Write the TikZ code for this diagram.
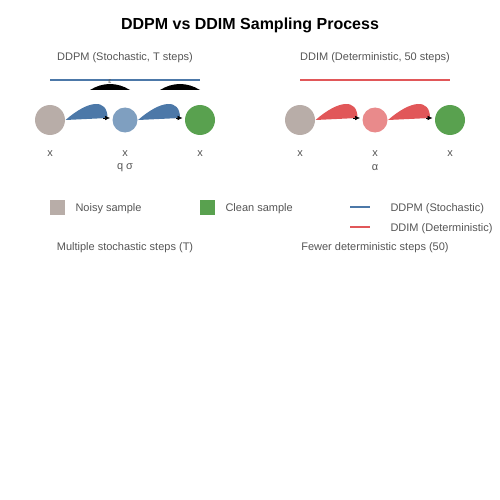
\documentclass[tikz,border=0pt]{standalone}
\usepackage{fontspec}
\setmainfont{Liberation Sans}
\setsansfont{Liberation Sans}
\usetikzlibrary{positioning,arrows.meta}
\definecolor{noisy}{RGB}{184,173,168}
\definecolor{clean}{RGB}{89,161,79}
\definecolor{ddpm}{RGB}{76,120,168}
\definecolor{ddpmlight}{RGB}{127,159,192}
\definecolor{ddim}{RGB}{225,87,89}
\definecolor{ddimlight}{RGB}{233,138,139}
\definecolor{txt}{RGB}{85,85,85}
\begin{document}
\begin{tikzpicture}[x=1pt,y=-1pt,line width=1pt,>=Latex,
  every node/.style={text=txt,font=\fontsize{11}{13}\selectfont},
  big/.style={circle,inner sep=0pt,minimum size=30pt},
  small/.style={circle,inner sep=0pt,minimum size=25pt},
  lgtext/.style={anchor=west,inner sep=0pt,yshift=-1.5pt},
  tip/.style={-{Latex[length=5pt,width=4.5pt]},black,line width=.5pt},
  node distance=75pt,on grid]
\useasboundingbox (0,0) rectangle (500,500);
\sffamily
\node[font=\bfseries\fontsize{16}{19}\selectfont,text=black] (title) at (250,25.5) {DDPM vs DDIM Sampling Process};

% DDPM
\node[big,fill=noisy] (p1) at (50,120) {};
\node[small,fill=ddpmlight,right=of p1] (p2) {};
\node[big,fill=clean,right=of p2] (p3) {};
\node[above=62pt of p2] (ddpmtitle) {DDPM (Stochastic, T steps)};
\node[below=33.5pt of p1] (px1) {x};
\node[below=33.5pt of p2] (px2) {x};
\node[below=33.5pt of p3] (px3) {x};
\node[below=14.5pt of px2] (qs) {q σ};
\node[below=127.5pt of p2] (ddpmnote) {Multiple stochastic steps (T)};

\draw[ddpm,line width=2pt] (p1 |- 0,80) -- (p3 |- 0,80);
\fill (90,90) .. controls (103,82) and (117,82) .. (130,90) -- cycle;
\fill (160,90) .. controls (173,82) and (187,82) .. (200,90) -- cycle;
\node[inner sep=0pt,font=\fontsize{7}{8}\selectfont] (eps) at (110,81.5) {ε};

\fill[ddpm] (p1.east) .. controls +(23,-20) and +(0,-20) .. ([xshift=-4.5pt,yshift=2pt]p2.west) -- cycle;
\fill[ddpm] (p2.east) .. controls +(23,-20) and +(0,-20) .. ([xshift=-4.5pt,yshift=2pt]p3.west) -- cycle;
\draw[tip] ([xshift=-9pt,yshift=2pt]p2.west) -- ([xshift=-2pt,yshift=2pt]p2.west);
\draw[tip] ([xshift=-9pt,yshift=2pt]p3.west) -- ([xshift=-2pt,yshift=2pt]p3.west);

% DDIM
\node[big,fill=noisy] (d1) at (300,120) {};
\node[small,fill=ddimlight,right=of d1] (d2) {};
\node[big,fill=clean,right=of d2] (d3) {};
\node[above=62pt of d2] (ddimtitle) {DDIM (Deterministic, 50 steps)};
\node[below=33.5pt of d1] (dx1) {x};
\node[below=33.5pt of d2] (dx2) {x};
\node[below=33.5pt of d3] (dx3) {x};
\node[below=14.5pt of dx2] (al) {α};
\node[below=127.5pt of d2] (ddimnote) {Fewer deterministic steps (50)};

\draw[ddim,line width=2pt] (d1 |- 0,80) -- (d3 |- 0,80);
\fill[ddim] (d1.east) .. controls +(23,-20) and +(0,-20) .. ([xshift=-4.5pt,yshift=2pt]d2.west) -- cycle;
\fill[ddim] (d2.east) .. controls +(23,-20) and +(0,-20) .. ([xshift=-4.5pt,yshift=2pt]d3.west) -- cycle;
\draw[tip] ([xshift=-9pt,yshift=2pt]d2.west) -- ([xshift=-2pt,yshift=2pt]d2.west);
\draw[tip] ([xshift=-9pt,yshift=2pt]d3.west) -- ([xshift=-2pt,yshift=2pt]d3.west);

% legend
\node[fill=noisy,inner sep=0pt,minimum size=15pt] (lg1) at (57.5,207.5) {};
\node[right=17.5pt of lg1,lgtext] (lt1) {Noisy sample};
\node[fill=clean,inner sep=0pt,minimum size=15pt,right=150pt of lg1] (lg2) {};
\node[right=17.5pt of lg2,lgtext] (lt2) {Clean sample};
\coordinate (l3a) at (350,207);
\coordinate[right=20pt of l3a] (l3b);
\coordinate[below=20pt of l3a] (l4a);
\coordinate[right=20pt of l4a] (l4b);
\draw[ddpm,line width=2pt] (l3a) -- (l3b);
\draw[ddim,line width=2pt] (l4a) -- (l4b);
\node[right=40pt of l3a,lgtext] (lt3) {DDPM (Stochastic)};
\node[right=40pt of l4a,lgtext] (lt4) {DDIM (Deterministic)};
\end{tikzpicture}
\end{document}
